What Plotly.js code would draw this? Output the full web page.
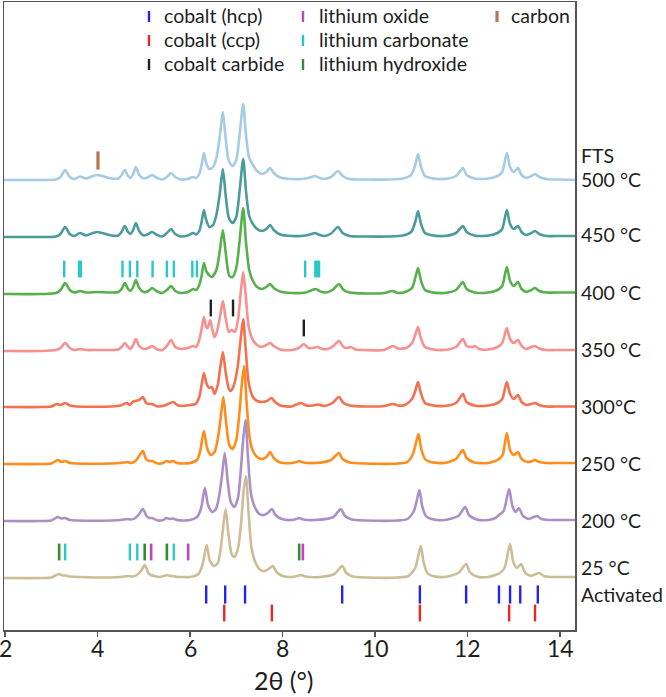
<!DOCTYPE html>
<html>
<head>
<meta charset="utf-8">
<script src="https://cdn.plot.ly/plotly-3.0.1.min.js"></script>
<style>
  html, body { margin: 0; padding: 0; background: #fff; }
  #chart { width: 666px; height: 697px; }
</style>
</head>
<body>
<div id="chart"></div>
<script>
// ---- XRD patterns: [2θ (°), intensity above the pattern's own baseline (a.u.)] ----
const fts500 = [[1.98,0],[2.8,0],[3.1,0.5],[3.2,3],[3.3,10],[3.4,3],[3.5,1],[3.62,3.5],[3.75,1.5],[3.9,4],[4.0,5],[4.1,4],[4.3,1.5],[4.45,1.5],[4.52,5],[4.59,10],[4.66,4],[4.71,2],[4.77,6],[4.83,13],[4.9,5],[5.0,1.5],[5.1,3],[5.18,5],[5.27,2.5],[5.4,0.5],[5.5,3],[5.59,7],[5.68,3],[5.8,0.5],[5.95,1],[6.07,3],[6.13,2],[6.2,6],[6.25,15],[6.30,27],[6.35,17],[6.42,11],[6.5,13],[6.57,22],[6.64,42],[6.71,68],[6.77,42],[6.84,19],[6.92,14],[7.0,20],[7.07,44],[7.15,76],[7.21,45],[7.28,22],[7.36,15],[7.45,9],[7.55,6],[7.65,8],[7.73,12],[7.81,7],[7.95,2.5],[8.2,1],[8.5,1.5],[8.62,3],[8.70,4],[8.78,2.5],[8.9,1],[9.05,3],[9.2,9],[9.3,4],[9.45,1],[9.8,0.5],[10.3,0.5],[10.6,1.5],[10.78,5],[10.87,15],[10.93,26],[10.99,14],[11.08,4],[11.2,2],[11.5,1],[11.75,4],[11.9,12],[11.98,5],[12.15,1.5],[12.45,1.5],[12.65,4],[12.75,8],[12.85,27],[12.92,13],[13.0,8],[13.09,12],[13.17,5],[13.27,2],[13.38,4],[13.46,6],[13.55,3],[13.7,1],[14.0,0.5],[14.35,0]];

const t450 = [[1.98,0],[2.8,0],[3.1,0.5],[3.2,3],[3.3,10],[3.4,3],[3.5,1],[3.62,4],[3.75,1.5],[3.9,4],[4.0,5],[4.1,4],[4.3,1.5],[4.45,1.5],[4.52,5],[4.59,11],[4.66,5],[4.71,3],[4.77,7],[4.83,14],[4.9,6],[5.0,1.5],[5.1,3],[5.18,5],[5.27,2.5],[5.4,0.5],[5.5,4],[5.59,8],[5.68,3],[5.8,0.5],[5.95,1.5],[6.07,4],[6.13,2.5],[6.2,6],[6.25,15],[6.30,27],[6.35,17],[6.42,10],[6.5,12],[6.57,22],[6.64,42],[6.71,68],[6.77,42],[6.84,19],[6.92,14],[7.0,20],[7.07,45],[7.15,78],[7.21,46],[7.28,21],[7.36,13],[7.45,8],[7.55,6],[7.65,8],[7.73,12],[7.81,7],[7.95,2.5],[8.2,1],[8.5,1.5],[8.62,3],[8.70,4],[8.78,2.5],[8.9,1],[9.05,3.5],[9.2,10],[9.3,4],[9.45,1],[9.8,0.5],[10.3,0.5],[10.6,1.5],[10.78,5],[10.87,15],[10.93,26],[10.99,14],[11.08,4],[11.2,2],[11.5,1],[11.75,4],[11.9,11],[11.98,5],[12.15,1.5],[12.45,1.5],[12.65,4],[12.75,8],[12.85,27],[12.92,13],[13.0,8],[13.09,11],[13.17,5],[13.27,2],[13.38,4],[13.46,6],[13.55,3],[13.7,1],[14.0,1],[14.35,1]];

const t400 = [[1.98,0],[2.8,0],[3.1,1],[3.2,4],[3.3,11],[3.4,4],[3.5,1.5],[3.62,3],[3.75,1.5],[4.0,2],[4.3,1.5],[4.45,2],[4.52,5],[4.59,11],[4.66,5],[4.71,3],[4.77,7],[4.83,14],[4.9,6],[5.0,2],[5.1,3],[5.18,6],[5.27,3],[5.4,1],[5.5,4],[5.59,8],[5.68,3],[5.8,1],[5.95,2],[6.07,5],[6.13,4],[6.2,9],[6.25,18],[6.30,31],[6.36,22],[6.47,17],[6.57,24],[6.64,42],[6.71,64],[6.77,42],[6.85,18],[6.92,17],[7.0,26],[7.07,52],[7.15,86],[7.21,52],[7.28,24],[7.36,13],[7.45,7],[7.55,5],[7.65,7],[7.73,10],[7.81,6],[7.95,2.5],[8.2,1],[8.5,1.5],[8.62,3.5],[8.72,5],[8.82,2.5],[8.95,1.5],[9.08,4],[9.22,10],[9.32,4],[9.45,1.5],[9.8,0.5],[10.2,1],[10.37,3],[10.5,1],[10.65,2],[10.8,6],[10.87,16],[10.93,26],[10.99,14],[11.08,4],[11.2,2],[11.5,1],[11.75,4],[11.9,12],[11.98,5],[12.15,1.5],[12.45,1.5],[12.65,4],[12.75,8],[12.85,27],[12.92,13],[13.0,8],[13.09,12],[13.17,5],[13.27,2],[13.38,4],[13.46,6],[13.55,3],[13.7,1.5],[14.0,1.5],[14.35,1.5]];

const t350 = [[1.98,0],[2.8,0],[3.1,1],[3.2,3],[3.3,8],[3.4,3],[3.5,1],[3.62,2],[3.75,1],[4.0,1],[4.3,1],[4.45,1.5],[4.52,4],[4.59,8],[4.66,4],[4.71,2],[4.77,6],[4.83,12],[4.9,5],[5.0,2],[5.1,3],[5.18,5],[5.27,2],[5.4,1],[5.5,5],[5.59,11],[5.68,4],[5.8,2],[5.95,3],[6.07,5],[6.13,4],[6.2,11],[6.25,22],[6.30,34],[6.35,24],[6.38,23],[6.44,31],[6.48,22],[6.53,14],[6.58,19],[6.64,32],[6.71,50],[6.77,33],[6.84,19],[6.90,21],[6.97,19],[7.04,32],[7.1,60],[7.15,79],[7.2,58],[7.27,24],[7.36,11],[7.45,6],[7.55,4],[7.65,6],[7.73,8],[7.81,5],[7.95,1.5],[8.2,1],[8.35,3],[8.46,7],[8.56,3],[8.65,3],[8.76,4],[8.86,2],[8.98,2],[9.1,5],[9.22,10],[9.32,4],[9.4,3],[9.48,4],[9.58,1.5],[9.8,1],[10.2,1],[10.39,5],[10.5,2.5],[10.68,3],[10.8,8],[10.87,16],[10.93,24],[10.99,13],[11.08,4],[11.2,2],[11.5,1],[11.75,4],[11.9,12],[11.98,5],[12.1,4],[12.16,5],[12.25,2],[12.45,1.5],[12.65,4],[12.75,8],[12.85,23],[12.92,12],[13.0,8],[13.09,11],[13.17,5],[13.27,2],[13.38,4],[13.46,5],[13.55,2.5],[13.7,1],[14.0,1],[14.35,1]];

const t300 = [[1.98,0],[2.8,0],[3.0,0.5],[3.12,3],[3.2,2],[3.3,4],[3.4,1.5],[3.55,0.5],[4.3,0.5],[4.5,1.5],[4.63,4],[4.7,2],[4.76,5],[4.81,6],[4.9,7],[4.98,10],[5.05,4],[5.12,3],[5.18,3],[5.3,0.5],[5.45,1.5],[5.52,3],[5.64,5],[5.72,2],[5.85,1],[6.0,2],[6.12,3],[6.2,10],[6.25,22],[6.30,34],[6.36,23],[6.42,19],[6.47,20],[6.53,13],[6.6,22],[6.65,38],[6.71,55],[6.77,35],[6.84,18],[6.88,16],[6.95,22],[7.03,40],[7.1,70],[7.15,88],[7.2,60],[7.27,24],[7.36,10],[7.45,6],[7.55,5],[7.66,6],[7.76,9],[7.84,5],[7.95,1.5],[8.2,0.5],[8.3,2.5],[8.40,4],[8.52,1.5],[8.65,1.5],[8.78,2.5],[8.9,1],[9.08,4],[9.22,10],[9.32,4],[9.45,1.5],[9.8,0.5],[10.2,1],[10.39,3],[10.5,1.5],[10.65,2],[10.8,8],[10.87,16],[10.93,25],[10.99,14],[11.08,4],[11.2,2],[11.5,1],[11.75,4],[11.9,13],[11.98,5],[12.15,1.5],[12.45,1.5],[12.65,4],[12.75,8],[12.85,25],[12.92,13],[13.0,8],[13.09,12],[13.17,5],[13.27,2],[13.38,3],[13.46,4],[13.55,2],[13.7,0.5],[14.0,0.5],[14.35,0.5]];

const t250 = [[1.98,0],[2.8,0],[3.0,0.5],[3.14,4],[3.22,2],[3.30,3],[3.4,1],[3.55,0.5],[4.3,0.5],[4.5,1],[4.65,2],[4.72,1],[4.82,3],[4.9,8],[4.98,13],[5.05,5],[5.12,3],[5.18,3],[5.3,0.5],[5.42,1],[5.49,3],[5.56,2],[5.63,3],[5.72,1],[5.85,0.5],[6.0,1],[6.15,4],[6.22,13],[6.30,33],[6.37,16],[6.45,9],[6.53,12],[6.6,25],[6.66,45],[6.72,67],[6.78,42],[6.85,19],[6.92,15],[7.0,24],[7.07,52],[7.12,80],[7.17,98],[7.22,64],[7.29,26],[7.36,13],[7.45,7],[7.55,5],[7.65,7],[7.73,12],[7.81,6],[7.95,1.5],[8.2,1],[8.3,2],[8.36,3],[8.45,1.5],[8.7,1],[9.05,4],[9.22,11],[9.3,5],[9.45,1.5],[9.8,0.5],[10.5,0.5],[10.7,2],[10.82,10],[10.88,20],[10.94,30],[11.0,15],[11.08,5],[11.2,2],[11.5,1],[11.75,5],[11.9,14],[11.98,6],[12.15,1.5],[12.45,1],[12.6,3],[12.68,5],[12.76,9],[12.85,31],[12.92,14],[13.0,9],[13.09,12],[13.17,5],[13.3,2],[13.4,3],[13.46,4],[13.55,2],[13.7,1],[14.0,1],[14.35,1]];

const t200 = [[1.98,0],[2.8,0],[3.0,0.5],[3.14,4],[3.22,2.5],[3.30,3],[3.4,1],[3.55,0.5],[4.3,0.5],[4.5,1],[4.65,2],[4.72,1.5],[4.82,3],[4.9,7],[4.98,12],[5.06,5],[5.12,3],[5.18,3],[5.3,0.5],[5.42,1],[5.49,3],[5.56,2],[5.63,2.5],[5.72,1],[5.85,0.5],[6.0,1],[6.15,4],[6.24,13],[6.32,33],[6.39,16],[6.48,9],[6.56,12],[6.63,25],[6.69,45],[6.75,68],[6.81,42],[6.88,19],[6.96,14],[7.04,24],[7.1,52],[7.15,82],[7.2,101],[7.25,66],[7.32,27],[7.4,14],[7.5,7],[7.6,6],[7.68,8],[7.77,12],[7.85,6],[7.98,2],[8.2,1],[8.3,2],[8.36,3],[8.45,1.5],[8.7,1],[9.1,4],[9.26,12],[9.35,5],[9.5,1.5],[9.8,0.5],[10.5,0.5],[10.7,2],[10.84,10],[10.9,20],[10.96,31],[11.02,15],[11.1,5],[11.22,2],[11.5,1],[11.8,5],[11.95,14],[12.03,6],[12.2,1.5],[12.45,1],[12.6,3],[12.68,6],[12.78,10],[12.9,32],[12.97,15],[13.04,9],[13.11,13],[13.2,5],[13.33,2],[13.43,4],[13.5,5],[13.6,2],[13.75,1],[14.0,1],[14.35,1]];

const t25 = [[1.98,0],[2.8,0],[3.0,0.5],[3.17,4],[3.24,2.5],[3.31,2.5],[3.4,1.5],[3.6,1],[4.3,0.5],[4.5,1],[4.67,2],[4.75,1.5],[4.85,3],[4.94,7],[5.02,13],[5.1,5],[5.15,3],[5.22,2],[5.35,1],[5.44,2],[5.50,3],[5.57,2],[5.63,2],[5.72,1],[5.85,1],[6.0,1],[6.18,4],[6.27,13],[6.36,33],[6.43,17],[6.52,12],[6.6,15],[6.66,28],[6.71,48],[6.77,69],[6.83,44],[6.9,24],[6.96,21],[7.04,30],[7.11,58],[7.16,88],[7.21,102],[7.26,70],[7.33,30],[7.42,15],[7.52,8],[7.62,7],[7.7,9],[7.79,12],[7.87,6],[8.0,2],[8.2,1],[8.32,2],[8.40,3],[8.5,1.5],[8.8,1],[9.12,4],[9.29,12],[9.38,5],[9.52,1.5],[9.8,0.5],[10.5,0.5],[10.72,2],[10.87,10],[10.93,21],[10.99,32],[11.05,16],[11.13,5],[11.25,2],[11.5,1],[11.8,5],[11.97,14],[12.05,6],[12.2,1.5],[12.45,1],[12.6,3],[12.70,5],[12.8,10],[12.92,34],[12.99,16],[13.07,10],[13.16,14],[13.25,5],[13.38,2],[13.48,4],[13.55,5],[13.65,2],[13.8,1],[14.0,1],[14.35,1]];

const patterns    = [fts500, t450, t400, t350, t300, t250, t200, t25];
const sampleNames = ['500 °C', '450 °C', '400 °C', '350 °C', '300°C', '250 °C', '200 °C', '25 °C'];
// vertical stacking offset of each pattern (a.u.)
const offsets     = [450, 393, 336, 279, 223, 166, 109, 52];
const lineColors  = ['#a5cce4', '#4b9b9b', '#56b04b', '#f7908f', '#f4704f', '#ff8c1c', '#ab90c8', '#cdbd97'];

// ---- Reference reflection positions, 2θ (°) ----
const cobaltHcp      = [6.35, 6.76, 7.19, 9.29, 10.97, 11.97, 12.68, 12.92, 13.14, 13.52];
const cobaltCcp      = [6.74, 7.77, 10.97, 12.90, 13.46];
const cobaltCarbideA = [6.45, 6.93];
const cobaltCarbideB = [8.46];
const lithiumOxide   = [5.16, 5.96, 8.44];
const li2co3Low      = [3.30, 4.70, 4.86, 5.65];
const li2co3High     = [3.28, 3.60, 3.64, 4.54, 4.70, 4.86, 5.19, 5.50, 5.65, 6.05, 6.15, 8.49, 8.71, 8.75, 8.79];
const lithiumHydrox  = [3.17, 5.02, 5.50, 8.36];
const carbonRefl     = [4.01];
const xTickVals      = [2, 4, 6, 8, 10, 12, 14];

const colHcp = '#2424f0', colCcp = '#f02424', colCarbide = '#222222',
      colOxide = '#c640c6', colCarb = '#28c8c8', colHydrox = '#2f8f2f', colCarbon = '#b9744d';

const traces = [];
patterns.forEach((pts, i) => {
  traces.push({
    type: 'scatter', mode: 'lines',
    x: pts.map(p => p[0]),
    y: pts.map(p => p[1] + offsets[i]),
    line: { color: lineColors[i], width: 2.6, shape: 'spline', smoothing: 0.7 },
    name: sampleNames[i], showlegend: false, hoverinfo: 'x+name'
  });
});

// reflection stick rows (y = row height in the same a.u. as the patterns)
function sticks(xs, yRow, color, len, w) {
  return {
    type: 'scatter', mode: 'markers', x: xs, y: xs.map(() => yRow),
    marker: { symbol: 'line-ns', size: len, color: color, line: { color: color, width: w } },
    showlegend: false, hoverinfo: 'x'
  };
}
traces.push(sticks(carbonRefl, 469.5, colCarbon, 13, 3.2));
traces.push(sticks(li2co3High, 361, colCarb, 12, 2.4));
traces.push(sticks(cobaltCarbideA, 322, colCarbide, 12, 2.4));
traces.push(sticks(cobaltCarbideB, 302, colCarbide, 12, 2.4));
traces.push(sticks(lithiumHydrox, 78, colHydrox, 12, 2.6));
traces.push(sticks(li2co3Low, 78, colCarb, 12, 2.4));
traces.push(sticks(lithiumOxide, 78, colOxide, 12, 2.6));
traces.push(sticks(cobaltHcp, 35.5, colHcp, 13, 2.4));
traces.push(sticks(cobaltCcp, 17, colCcp, 12, 2.4));

// ---- layout helpers: pixel -> paper coordinates ----
const M = { l: 4, r: 91, t: 2, b: 67 };
const PW = 666 - M.l - M.r, PH = 697 - M.t - M.b;
const px = x => (x - M.l) / PW;
const py = y => (697 - M.b - y) / PH;

const FONT = 'Lato, "Open Sans", "Liberation Sans", sans-serif';
const TXT = '#1e1e1e';

// legend: swatch x, text x, row y (pixels)
const legendItems = [
  { label: 'cobalt (hcp)',        color: colHcp,     sx: 149, tx: 162, ty: 14 },
  { label: 'cobalt (ccp)',        color: colCcp,     sx: 149, tx: 162, ty: 38 },
  { label: 'cobalt carbide',      color: colCarbide, sx: 149, tx: 162, ty: 62 },
  { label: 'lithium oxide',       color: colOxide,   sx: 303, tx: 317, ty: 14 },
  { label: 'lithium carbonate',   color: colCarb,    sx: 303, tx: 317, ty: 38 },
  { label: 'lithium hydroxide',   color: colHydrox,  sx: 303, tx: 317, ty: 62 },
  { label: 'carbon',              color: colCarbon,  sx: 497, tx: 509, ty: 14 }
];

const shapes = legendItems.map(it => ({
  type: 'line', xref: 'paper', yref: 'paper',
  x0: px(it.sx), x1: px(it.sx), y0: py(it.ty - 3), y1: py(it.ty + 8),
  line: { color: it.color, width: it.color === colCarbon ? 3.2 : 2.4 }
}));

const annotations = legendItems.map(it => ({
  xref: 'paper', yref: 'paper', x: px(it.tx), y: py(it.ty + 1),
  xanchor: 'left', yanchor: 'middle', showarrow: false,
  text: it.label, font: { family: FONT, size: 19.5, color: TXT }
}));

// sample labels at the right of the frame
const sideLabels = [
  ['FTS', 156], ['500 °C', 179], ['450 °C', 234], ['400 °C', 293], ['350 °C', 349],
  ['300°C', 406], ['250 °C', 463], ['200 °C', 520], ['25 °C', 567], ['Activated', 594]
];
sideLabels.forEach(([t, y]) => annotations.push({
  xref: 'paper', yref: 'paper', x: px(579), y: py(y),
  xanchor: 'left', yanchor: 'middle', showarrow: false,
  text: t, font: { family: FONT, size: 19.5, color: TXT }
}));

// the "2" tick label sits on the frame edge; draw the labels as text so it is not dropped
xTickVals.forEach(v => annotations.push({
  xref: 'x', yref: 'paper', x: v, y: py(648),
  xanchor: 'center', yanchor: 'middle', showarrow: false,
  text: String(v), font: { family: FONT, size: 23, color: TXT }
}));

// axis title
annotations.push({
  xref: 'paper', yref: 'paper', x: px(284), y: py(680),
  xanchor: 'center', yanchor: 'middle', showarrow: false,
  text: '2θ (°)', font: { family: FONT, size: 25, color: TXT }
});

const layout = {
  width: 666, height: 697, margin: M,
  paper_bgcolor: '#ffffff', plot_bgcolor: '#ffffff',
  showlegend: false,
  font: { family: FONT, color: TXT },
  xaxis: {
    range: [1.978, 14.324], tickmode: 'array', tickvals: xTickVals, showticklabels: false,
    showline: true, mirror: true, linecolor: '#555555', linewidth: 1.5,
    ticks: 'outside', ticklen: 5, tickwidth: 1.5, tickcolor: '#555555',
    showgrid: false, zeroline: false
  },
  yaxis: {
    range: [0, 628], showline: true, mirror: true, linecolor: '#555555', linewidth: 1.5,
    showticklabels: false, ticks: '', showgrid: false, zeroline: false
  },
  shapes: shapes,
  annotations: annotations
};

Plotly.newPlot('chart', traces, layout, { staticPlot: true, displayModeBar: false });
</script>
</body>
</html>
